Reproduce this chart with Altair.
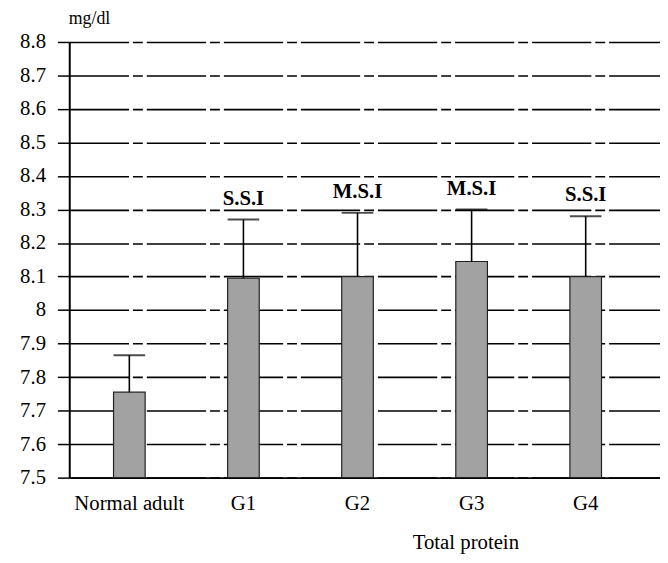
import altair as alt
import pandas as pd

groups = ["Normal adult", "G1", "G2", "G3", "G4"]
means = [7.755, 8.095, 8.10, 8.145, 8.10]
upper = [7.865, 8.27, 8.29, 8.30, 8.28]
sig = ["", "S.S.I", "M.S.I", "M.S.I", "S.S.I"]

df = pd.DataFrame({"group": groups, "mean": means, "upper": upper, "sig": sig})

FONT = "Liberation Serif"
YMIN, YMAX = 7.5, 8.8
ticks = [7.5, 7.6, 7.7, 7.8, 7.9, 8.0, 8.1, 8.2, 8.3, 8.4, 8.5, 8.6, 8.7, 8.8]

xscale = alt.Scale(domain=groups, paddingInner=0, paddingOuter=0.089, align=0.15)
yscale = alt.Scale(domain=[YMIN, YMAX], nice=False, zero=False)

xaxis = alt.Axis(title="Total protein", labelAngle=0, ticks=False,
                 labelFont=FONT, labelFontSize=21, labelColor="black",
                 labelPadding=15, labelOverlap=False,
                 domainColor="black", domainWidth=2,
                 titleFont=FONT, titleFontSize=21, titleFontWeight="normal",
                 titleColor="black", titleX=401, titleY=66,
                 titleAlign="center", titleBaseline="middle")

yaxis = alt.Axis(title="mg/dl", values=ticks,
                 labelExpr="format(datum.value, '.1~f')",
                 labelFont=FONT, labelFontSize=21, labelColor="black",
                 labelPadding=12, labelOverlap=False,
                 tickSize=12, tickColor="black", tickWidth=1.5,
                 domainColor="black", domainWidth=2,
                 grid=True, gridColor="black", gridWidth=1.6,
                 gridDash=[60, 4, 10, 4], gridOpacity=1,
                 titleFont=FONT, titleFontSize=18, titleFontWeight="normal",
                 titleColor="black", titleAngle=0, titleX=20, titleY=-24,
                 titleAlign="center", titleBaseline="middle")

x = alt.X("group:N", scale=xscale, sort=groups, axis=xaxis)

bars = alt.Chart(df).mark_bar(width=32, color="#a2a2a2", stroke="#222222",
                              strokeWidth=1.2).encode(
    x=x, y=alt.Y("mean:Q", scale=yscale, axis=yaxis), y2=alt.datum(YMIN))

rules = alt.Chart(df).mark_rule(color="black", strokeWidth=1.6).encode(
    x=x,
    y=alt.Y("mean:Q", scale=yscale, axis=yaxis),
    y2="upper:Q")

caps = alt.Chart(df).mark_tick(color="black", size=32, thickness=2).encode(
    x=x,
    y=alt.Y("upper:Q", scale=yscale, axis=yaxis))

labels = alt.Chart(df).mark_text(font=FONT, fontSize=21, fontWeight="bold",
                                 color="black", baseline="middle", dy=-21).encode(
    x=x,
    y=alt.Y("upper:Q", scale=yscale, axis=yaxis),
    text="sig:N")

chart = alt.layer(bars, rules, caps, labels).properties(
    width=598, height=441,
    autosize=alt.AutoSizeParams(type="none"),
    padding={"left": 62, "top": 31, "right": 0, "bottom": 80},
    background="white",
).configure_view(stroke=None)

chart.save("out.html", embed_options={"renderer": "svg", "actions": False})
